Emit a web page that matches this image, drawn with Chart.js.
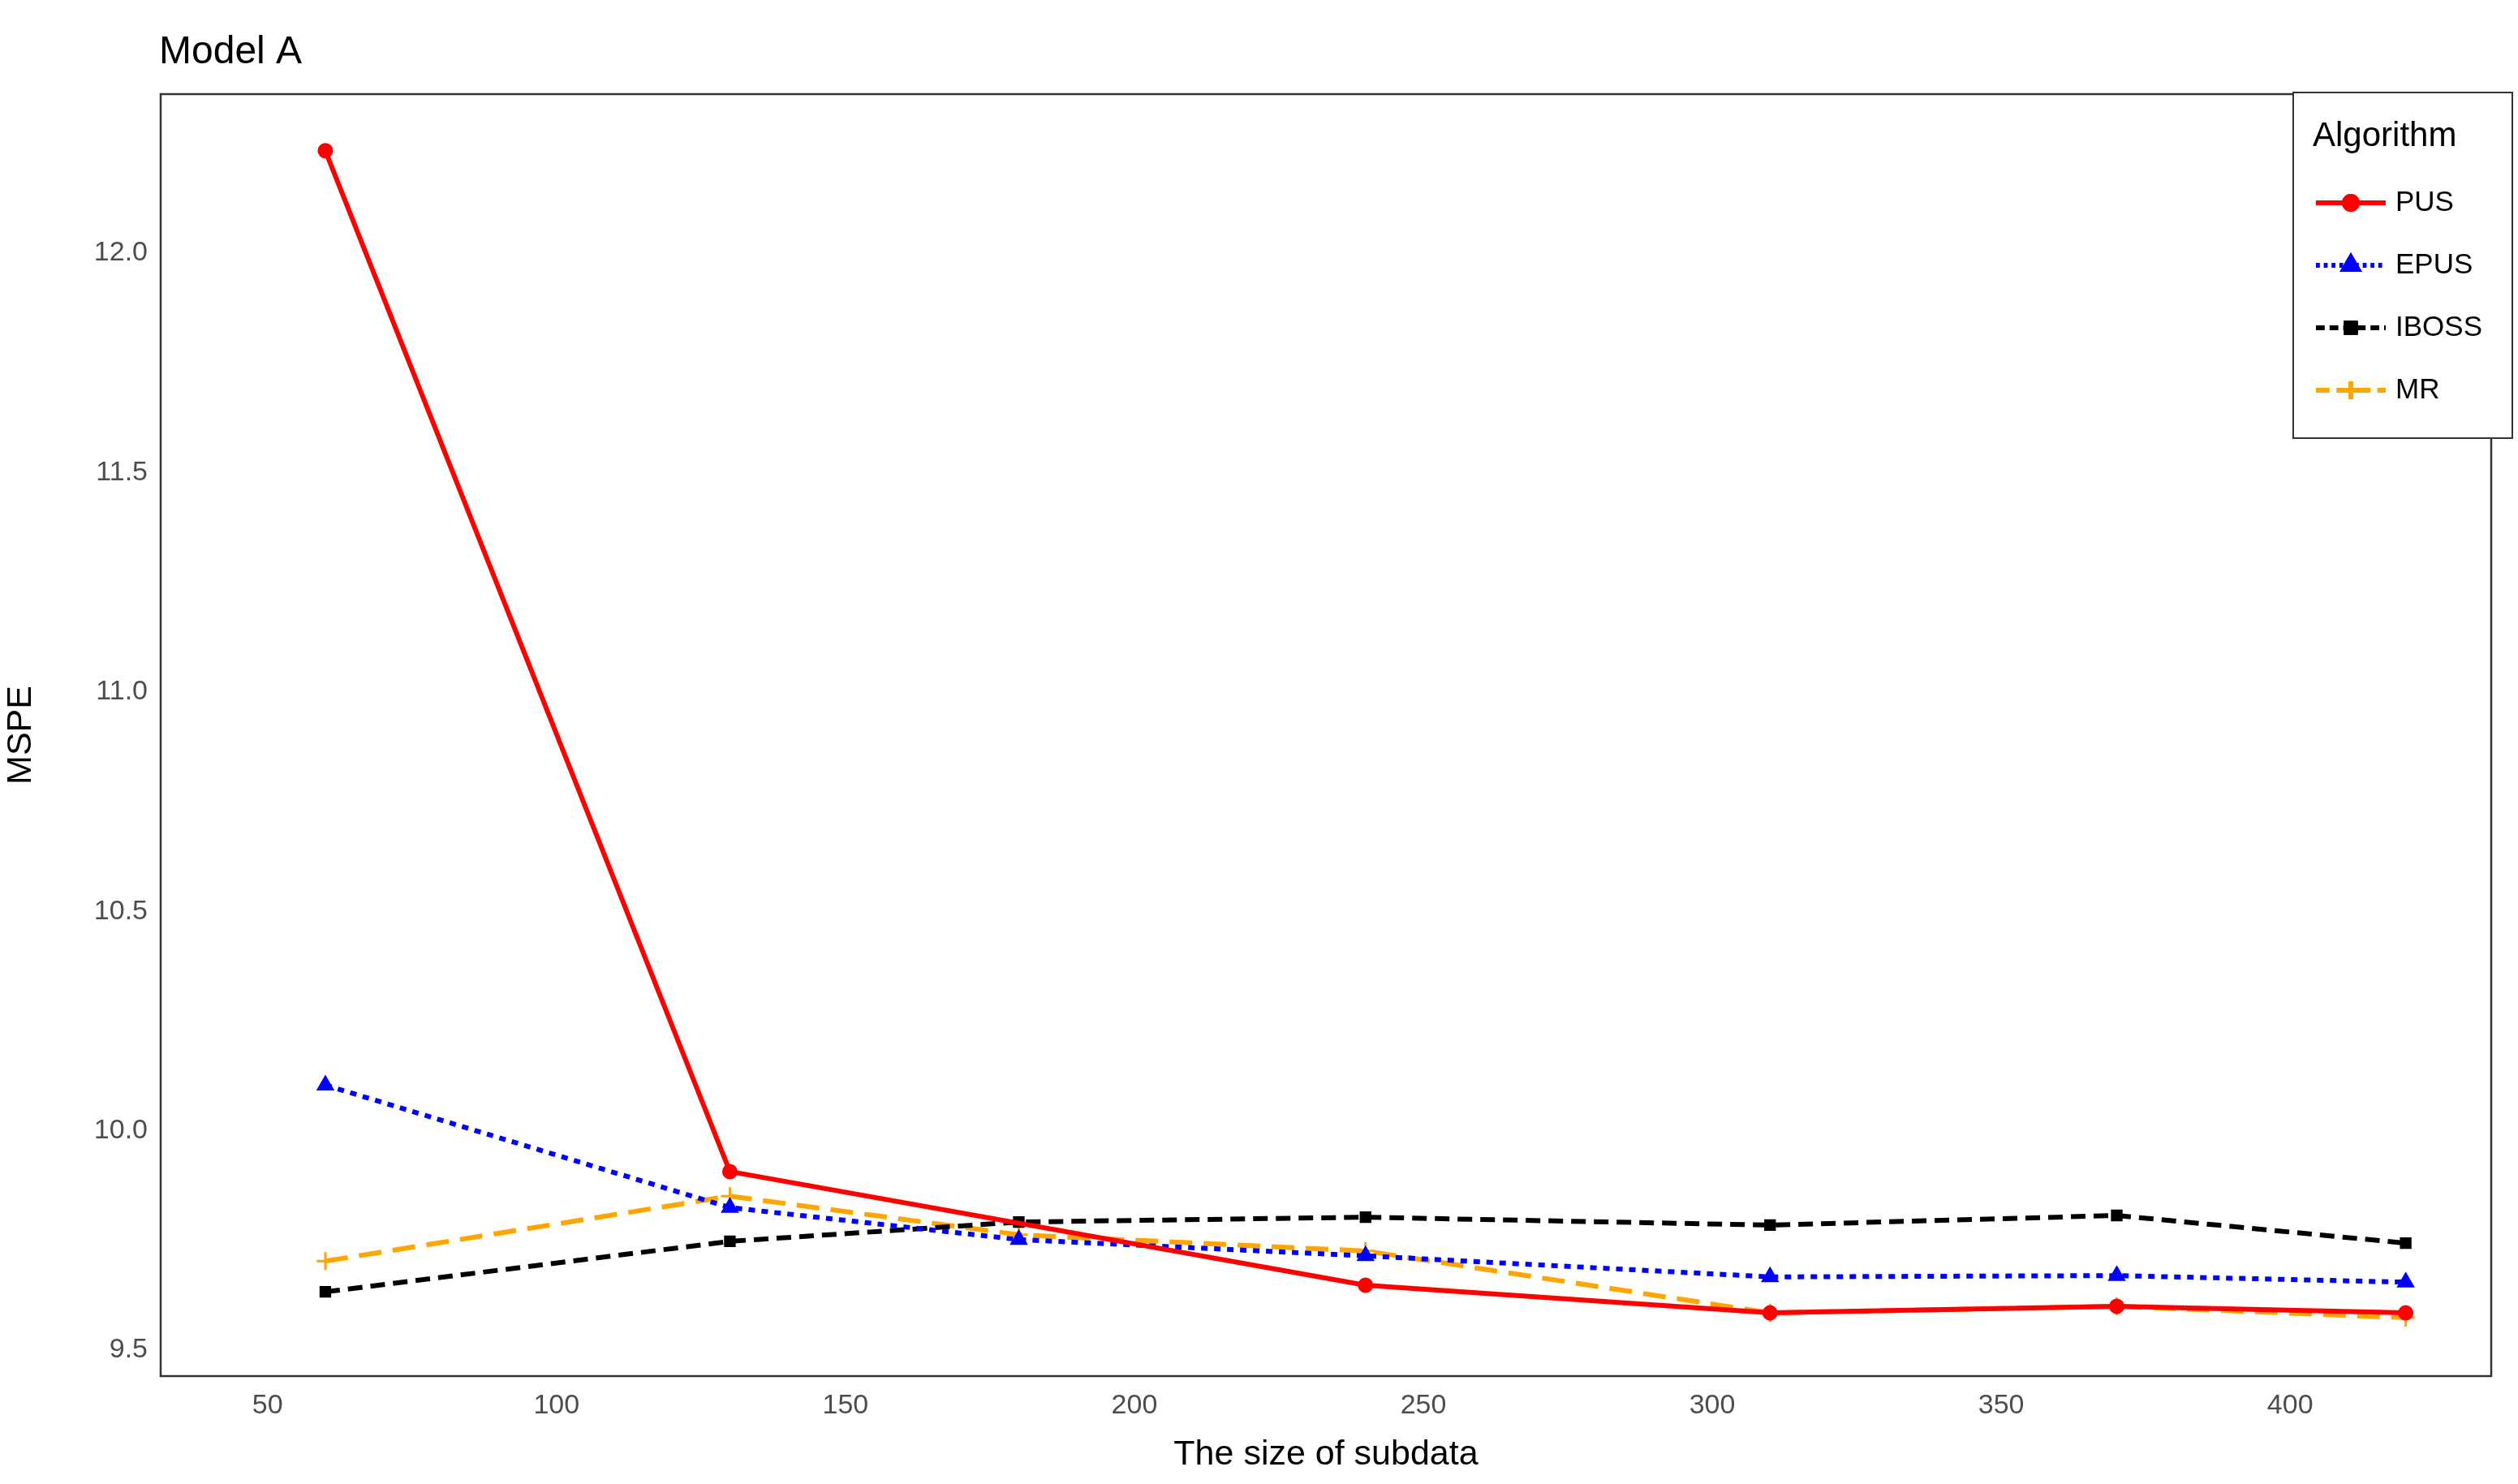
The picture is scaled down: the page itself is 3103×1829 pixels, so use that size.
<!DOCTYPE html>
<html><head><meta charset="utf-8">
<script src="https://cdn.jsdelivr.net/npm/chart.js@4"></script>
<style>html,body{margin:0;padding:0;background:#fff}#w{width:3103px;height:1829px}</style>
</head><body><div id="w"><canvas id="c" width="3103" height="1829"></canvas></div>
<script>
const sizes = [60, 130, 180, 240, 310, 370, 420];
const seriesNames = ['PUS', 'EPUS', 'IBOSS', 'MR'];
const pus   = [12.233, 9.907, null, 9.648, 9.585, 9.600, 9.585];
const epus  = [10.104, 9.825, 9.752, 9.715, 9.667, 9.670, 9.655];
const iboss = [9.633, 9.748, 9.792, 9.803, 9.785, 9.807, 9.744];
const mr    = [9.703, 9.851, 9.763, 9.726, 9.585, 9.600, 9.574];
const xTicks = [50, 100, 150, 200, 250, 300, 350, 400];
const yTicks = [9.5, 10.0, 10.5, 11.0, 11.5, 12.0];

const styles = [
  {c:'#ff0000', dash:[], pt:'circle', r:8},
  {c:'#0000ff', dash:[8,8], pt:'triangle', r:10},
  {c:'#000000', dash:[18,10], pt:'rect', r:8},
  {c:'#ffa500', dash:[28,14], pt:'cross', r:11}
];
const vals = [pus, epus, iboss, mr];
const datasets = vals.map((v,i)=>({
  label: seriesNames[i],
  data: sizes.map((x,j)=>v[j]==null?null:{x:x,y:v[j]}).filter(p=>p),
  borderColor: styles[i].c, backgroundColor: styles[i].c,
  borderWidth: 6, borderDash: styles[i].dash,
  pointStyle: styles[i].pt, pointRadius: styles[i].r, pointBorderWidth: 3,
  fill:false, tension:0
}));
const FONT = '"Liberation Sans", Arial, sans-serif';
const deco = {
  id:'deco',
  afterDraw(ch){
    const g=ch.ctx, a=ch.chartArea;
    g.save();
    g.strokeStyle='#333'; g.lineWidth=2.5;
    g.strokeRect(a.left,a.top,a.right-a.left,a.bottom-a.top);
    g.fillStyle='#000'; g.font='48px '+FONT; g.textBaseline='alphabetic';
    g.fillText('Model A',196,78);
    // legend
    const lx=2826, ly=114, lw=270, lh=426;
    g.fillStyle='#fff'; g.fillRect(lx,ly,lw,lh);
    g.strokeStyle='#333'; g.lineWidth=2; g.strokeRect(lx,ly,lw,lh);
    g.fillStyle='#000'; g.font='42px '+FONT;
    g.fillText('Algorithm',lx+24,ly+66);
    g.font='35px '+FONT; g.textBaseline='middle';
    seriesNames.forEach((n,i)=>{
      const y=ly+136+i*77, s=styles[i];
      g.strokeStyle=s.c; g.lineWidth=6; g.setLineDash(s.dash.map(d=>d*0.6));
      g.beginPath(); g.moveTo(lx+28,y); g.lineTo(lx+114,y); g.stroke(); g.setLineDash([]);
      Chart.helpers.drawPoint(g,{pointStyle:s.pt,radius:s.r,borderWidth:3},lx+71,y);
      g.fillStyle=s.c; g.strokeStyle=s.c;
      Chart.helpers.drawPoint(g,{pointStyle:s.pt,radius:s.r,borderWidth:3},lx+71,y);
      g.fillStyle='#000'; g.fillText(n,lx+126,y);
    });
    g.restore();
  }
};
new Chart(document.getElementById('c'),{
  type:'line',
  data:{datasets},
  options:{
    responsive:false, animation:false, devicePixelRatio:1,
    layout:{padding:{top:116,right:33,left:0,bottom:0}},
    plugins:{legend:{display:false},tooltip:{enabled:false}},
    scales:{
      x:{type:'linear', min:31.5, max:434.8,
        afterBuildTicks(s){s.ticks=xTicks.map(v=>({value:v}));},
        afterFit(s){s.height=133;},
        grid:{display:false,drawOnChartArea:false,drawTicks:true,tickLength:10,tickColor:'#333',tickWidth:2.5},
        border:{display:false},
        ticks:{color:'#4d4d4d',font:{size:34,family:FONT},padding:6,maxRotation:0},
        title:{display:true,text:'The size of subdata',color:'#000',font:{size:43,family:FONT},padding:{top:0,bottom:10}}
      },
      y:{type:'linear', min:9.441, max:12.362,
        afterBuildTicks(s){s.ticks=yTicks.map(v=>({value:v}));},
        afterFit(s){s.width=198;},
        grid:{display:false,drawOnChartArea:false,drawTicks:true,tickLength:10,tickColor:'#333',tickWidth:2.5},
        border:{display:false},
        ticks:{color:'#4d4d4d',font:{size:34,family:FONT},padding:6,callback:v=>v.toFixed(1)},
        title:{display:true,text:'MSPE',color:'#000',font:{size:43,family:FONT},padding:{top:0,bottom:14}}
      }
    }
  },
  plugins:[deco]
});
</script></body></html>
